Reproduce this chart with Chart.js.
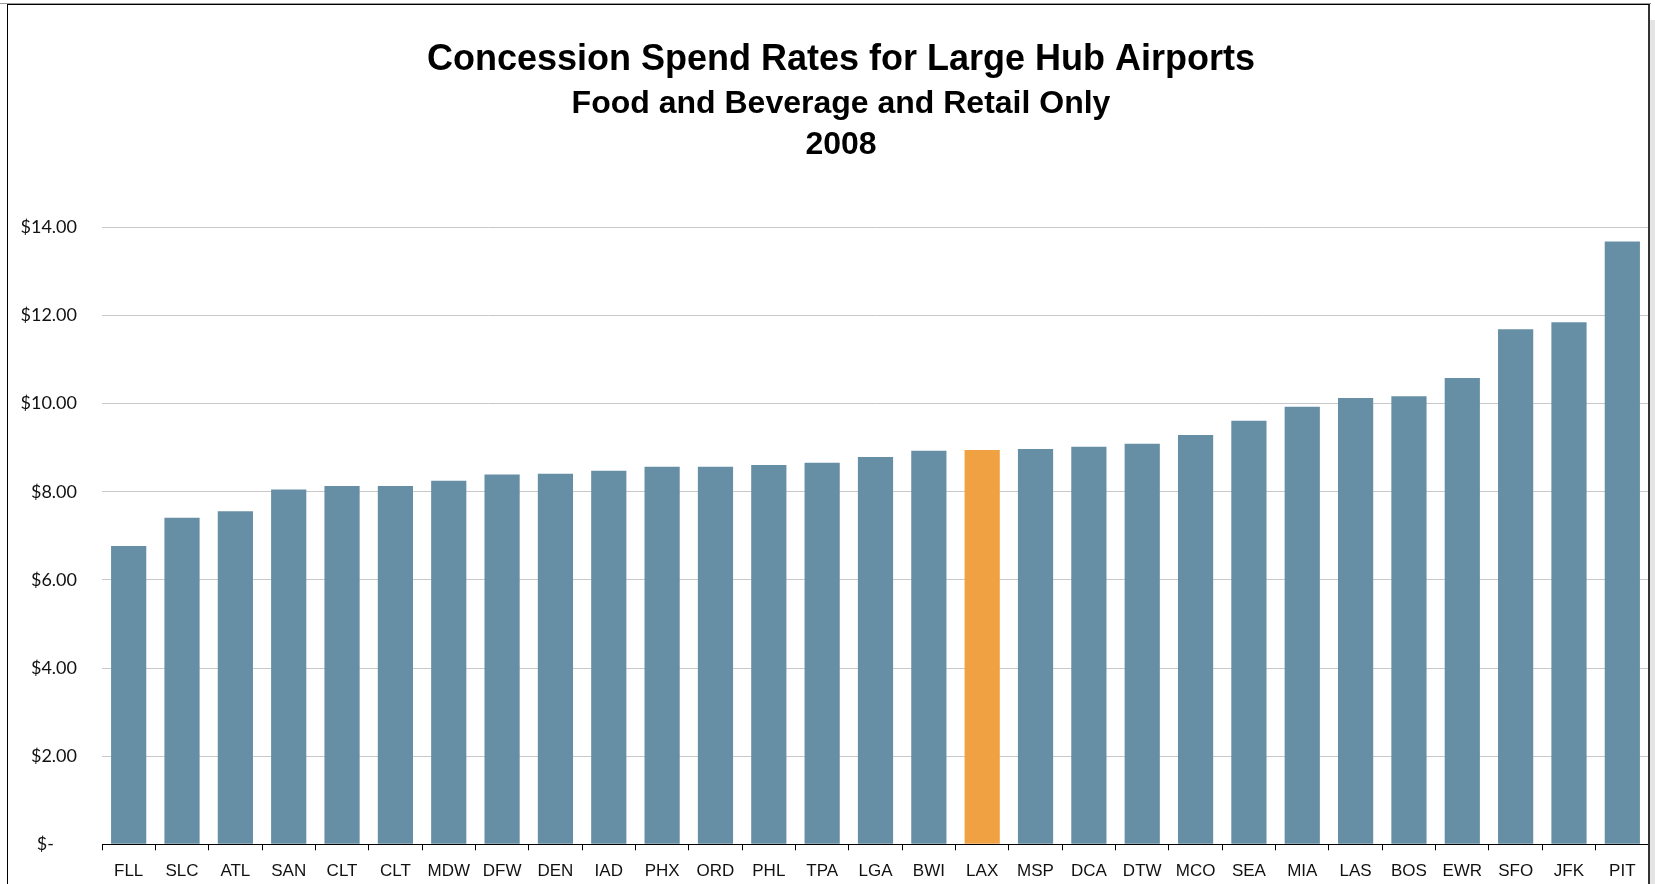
<!DOCTYPE html>
<html>
<head>
<meta charset="utf-8">
<script src="https://cdn.jsdelivr.net/npm/chart.js@4.4.1/dist/chart.umd.min.js"></script>
<style>
  html, body { margin: 0; padding: 0; background: #ffffff; }
  #wrap { position: relative; width: 1655px; height: 884px; overflow: hidden; }
  #c { position: absolute; left: 0; top: 0; }
  #topgray { position: absolute; left: 0; top: 3px; width: 1651px; height: 1px; background: #9a9a9a; pointer-events: none; }
  #frame { position: absolute; left: 7px; top: 4px; width: 1640px; height: 900px;
           border-left: 1px solid #000; border-top: 1px solid #000; border-right: 2px solid #333; pointer-events: none; }
  #shadow { position: absolute; left: 1650px; top: 20px; width: 5px; height: 880px; background: #e4e4e4; pointer-events: none; }
</style>
</head>
<body>
<div id="wrap">
  <canvas id="c" width="1655" height="884"></canvas>
  <div id="topgray"></div>
  <div id="frame"></div>
  <div id="shadow"></div>
</div>
<script>
const titleText = "Concession Spend Rates for Large Hub Airports";
const subtitleLines = ["Food and Beverage and Retail Only", "2008"];

const airports = ["FLL","SLC","ATL","SAN","CLT","CLT","MDW","DFW","DEN","IAD","PHX","ORD","PHL","TPA","LGA",
                  "BWI","LAX","MSP","DCA","DTW","MCO","SEA","MIA","LAS","BOS","EWR","SFO","JFK","PIT"];
const spendRates = [6.77, 7.41, 7.56, 8.05, 8.13, 8.13, 8.25, 8.39, 8.41, 8.48, 8.57, 8.57, 8.61, 8.66, 8.79,
                    8.93, 8.95, 8.97, 9.02, 9.09, 9.29, 9.61, 9.93, 10.13, 10.17, 10.58, 11.69, 11.85, 13.68];
const highlighted = ["LAX"];
const yTickValues = [0, 2, 4, 6, 8, 10, 12, 14];

const baseColor = "#668FA5";
const highlightColor = "#F0A243";
const barColors = airports.map(a => highlighted.includes(a) ? highlightColor : baseColor);

// shift the title blocks so that they are centred like the reference
const titleShift = {
  id: "titleShift",
  afterLayout(chart) {
    chart.boxes.forEach(b => {
      if (b.position === "top" && b.options && "text" in b.options) { b.left += 25; }
    });
  }
};

new Chart(document.getElementById("c"), {
  type: "bar",
  data: {
    labels: airports,
    datasets: [{
      data: spendRates,
      backgroundColor: barColors,
      borderWidth: 0,
      barPercentage: 0.66,
      categoryPercentage: 1.0
    }]
  },
  options: {
    responsive: false,
    animation: false,
    devicePixelRatio: 1,
    layout: { padding: { left: 8, right: 6, top: 24, bottom: 0 } },
    plugins: {
      legend: { display: false },
      tooltip: { enabled: false },
      title: {
        display: true,
        text: titleText,
        color: "#000",
        font: { family: "'Liberation Sans', Arial, sans-serif", size: 36, weight: "bold", lineHeight: 1.2 },
        padding: { top: 14, bottom: 2 }
      },
      subtitle: {
        display: true,
        text: subtitleLines,
        color: "#000",
        font: { family: "'Liberation Sans', Arial, sans-serif", size: 32, weight: "bold", lineHeight: 1.3 },
        padding: { top: 0, bottom: 61 }
      }
    },
    scales: {
      x: {
        type: "category",
        grid: { display: true, offset: true, drawOnChartArea: false, drawTicks: true, tickLength: 6, tickColor: "#000", tickWidth: 1 },
        border: { display: true, color: "#000", width: 1 },
        ticks: {
          color: "#111",
          font: { family: "'Liberation Sans', Arial, sans-serif", size: 17 },
          padding: 11,
          maxRotation: 0,
          autoSkip: false
        },
        afterFit: (s) => { s.height = 39.7; }
      },
      y: {
        min: 0,
        max: 14,
        afterBuildTicks: (s) => { s.ticks = yTickValues.map(v => ({ value: v })); },
        grid: { color: "#c8c8c8", lineWidth: 1, drawTicks: false },
        border: { display: false },
        ticks: {
          color: "#111",
          padding: 25,
          font: { family: "Lato, 'DejaVu Sans', sans-serif", size: 18 },
          callback: (v) => v === 0 ? "$-     " : "$" + Number(v).toFixed(2)
        },
        afterFit: (s) => { s.width = 94; }
      }
    }
  },
  plugins: [titleShift]
});
</script>
</body>
</html>
